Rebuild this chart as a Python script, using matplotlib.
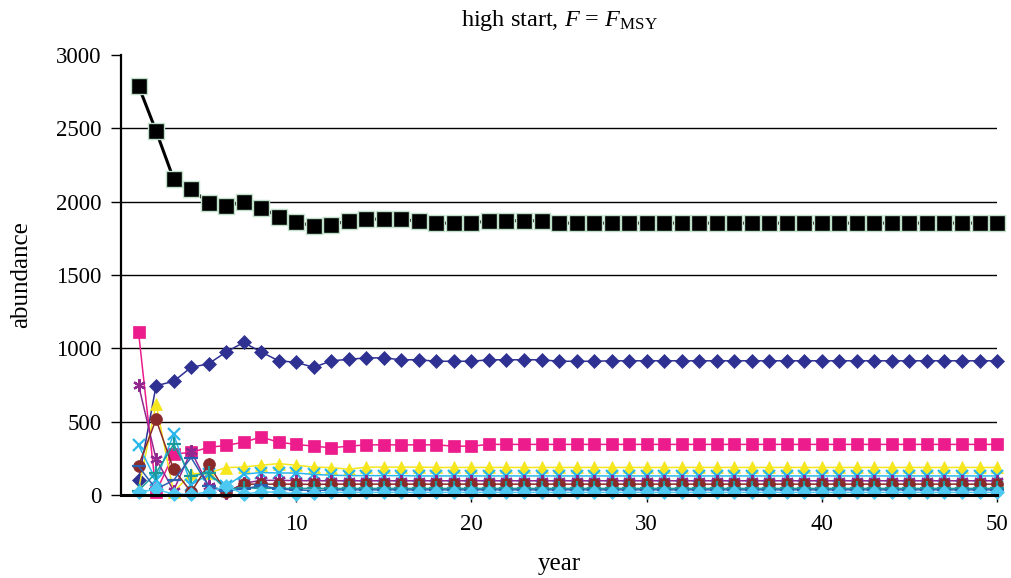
import matplotlib.pyplot as plt

plt.rcParams['font.family'] = ['Liberation Serif', 'DejaVu Serif']
plt.rcParams['mathtext.fontset'] = 'custom'
plt.rcParams['mathtext.rm'] = 'Liberation Serif'
plt.rcParams['mathtext.it'] = 'Liberation Serif:italic'

# ==========================
#   simulated abundances
# ==========================

years = list(range(1, 51))

age1 = [100, 745, 775, 870, 895, 975, 1040, 975, 915, 905,
        870, 915, 925, 935, 935, 922, 922, 912, 912, 912,
        922, 922, 922, 922, 912, 912, 912, 915, 915, 915,
        915, 915, 915, 915, 915, 915, 915, 915, 915, 915,
        915, 915, 915, 915, 915, 915, 915, 915, 915, 915]

age2 = [1110, 20, 280, 290, 325, 338, 360, 395, 360, 345,
        333, 322, 333, 342, 342, 342, 342, 342, 333, 333,
        345, 345, 345, 345, 345, 345, 345, 345, 345, 345,
        345, 345, 345, 345, 345, 345, 345, 345, 345, 345,
        345, 345, 345, 345, 345, 345, 345, 345, 345, 345]

age3 = [40, 620, 20, 145, 150, 187, 191, 203, 214, 203,
        190, 187, 176, 190, 190, 190, 190, 188, 188, 188,
        188, 188, 188, 188, 188, 188, 188, 188, 188, 188,
        188, 188, 188, 188, 188, 188, 188, 188, 188, 188,
        188, 188, 188, 188, 188, 188, 188, 188, 188, 188]

age4 = [340, 100, 415, 70, 140, 60, 142, 153, 150, 150,
        140, 135, 132, 132, 132, 132, 130, 130, 130, 130,
        130, 130, 130, 130, 130, 130, 130, 130, 130, 130,
        130, 130, 130, 130, 130, 130, 130, 130, 130, 130,
        130, 130, 130, 130, 130, 130, 130, 130, 130, 130]

age5 = [750, 245, 30, 300, 60, 15, 80, 100, 100, 98,
        97, 97, 97, 97, 97, 97, 97, 97, 97, 97,
        97, 97, 97, 97, 97, 97, 97, 97, 97, 97,
        97, 97, 97, 97, 97, 97, 97, 97, 97, 97,
        97, 97, 97, 97, 97, 97, 97, 97, 97, 97]

age6 = [200, 515, 176, 20, 209, 18, 74, 74, 74, 74,
        72, 74, 74, 74, 74, 74, 74, 74, 74, 74,
        74, 74, 74, 74, 74, 74, 74, 74, 74, 74,
        74, 74, 74, 74, 74, 74, 74, 74, 74, 74,
        74, 74, 74, 74, 74, 74, 74, 74, 74, 74]

age7 = [30, 150, 345, 130, 150, 40, 50, 45, 45, 45,
        45, 45, 45, 45, 45, 45, 45, 45, 45, 45,
        45, 45, 45, 45, 45, 45, 45, 45, 45, 45,
        45, 45, 45, 45, 45, 45, 45, 45, 45, 45,
        45, 45, 45, 45, 45, 45, 45, 45, 45, 45]

age8 = [195, 40, 100, 255, 60, 30, 40, 65, 40, 35,
        30, 35, 35, 35, 35, 35, 35, 35, 35, 35,
        35, 35, 35, 35, 35, 35, 35, 35, 35, 35,
        35, 35, 35, 35, 35, 35, 35, 35, 35, 35,
        35, 35, 35, 35, 35, 35, 35, 35, 35, 35]

age9 = [18, 40, 5, 5, 20, 60, 7, 20, 20, 7,
        15, 18, 18, 18, 18, 18, 18, 18, 18, 18,
        18, 18, 18, 18, 18, 18, 18, 18, 18, 18,
        18, 18, 18, 18, 18, 18, 18, 18, 18, 18,
        18, 18, 18, 18, 18, 18, 18, 18, 18, 18]

total = [2790, 2482, 2155, 2086, 1993, 1970, 1998, 1959, 1898, 1864,
         1831, 1843, 1870, 1881, 1881, 1881, 1865, 1854, 1854, 1854,
         1870, 1870, 1870, 1870, 1854, 1854, 1854, 1854, 1854, 1854,
         1854, 1854, 1854, 1854, 1854, 1854, 1854, 1854, 1854, 1854,
         1854, 1854, 1854, 1854, 1854, 1854, 1854, 1854, 1854, 1854]

y_ticks = [0, 500, 1000, 1500, 2000, 2500, 3000]
x_ticks = [10, 20, 30, 40, 50]

# (data, color, marker, size) -- (6, 2, 0) is a six-armed asterisk
series = [
    (age1, '#2E3192', 'D', 7.5),
    (age2, '#EC1C8C', 's', 8),
    (age3, '#F5E61E', '^', 9),
    (age4, '#29B6EA', 'x', 8.5),
    (age5, '#92278F', (6, 2, 0), 9),
    (age6, '#8B2A2A', 'o', 8.5),
    (age7, '#1A9A9A', '+', 9.5),
    (age8, '#2B60B0', '_', 9.5),
    (age9, '#4DC8F0', 'D', 7.5),
]
line_markers = ('x', '+', '_', (6, 2, 0))

fig = plt.figure(figsize=(10.11, 5.78), dpi=100)
ax = fig.add_axes([0.1197, 0.1436, 0.8665, 0.7612])

ax.hlines(y_ticks[1:-1], 0, 50, colors='black', linewidth=1.0, zorder=1)

for data, color, marker, size in series:
    ax.plot(years, data, color=color, marker=marker, markersize=size,
            markeredgewidth=1.6 if marker in line_markers else 0.5,
            markeredgecolor=color, linewidth=1.1, zorder=3, clip_on=False)

ax.plot(years, total, color='black', marker='s', markersize=12,
        markeredgecolor='#BFE0C8', markeredgewidth=1.0, linewidth=2.2,
        zorder=4, clip_on=False)

ax.set_xlim(0, 50)
ax.set_ylim(0, 3000)
ax.set_xticks(x_ticks)
ax.set_yticks(y_ticks)
ax.tick_params(axis='both', labelsize=16.5, direction='out', color='black')
ax.tick_params(axis='x', length=5, width=1, pad=9)
ax.tick_params(axis='y', length=7, width=1, pad=7)

for side in ('top', 'right'):
    ax.spines[side].set_visible(False)
ax.spines['left'].set_linewidth(1.6)
ax.spines['bottom'].set_linewidth(2.2)
ax.spines['bottom'].set_zorder(5)

ax.set_title('high start, $F$ = $F_{\\mathrm{MSY}}$', fontsize=17.5, pad=21)
ax.set_xlabel('year', fontsize=18, labelpad=13)
ax.set_ylabel('abundance', fontsize=18, labelpad=17)

fig.savefig('out.png', dpi=100)
